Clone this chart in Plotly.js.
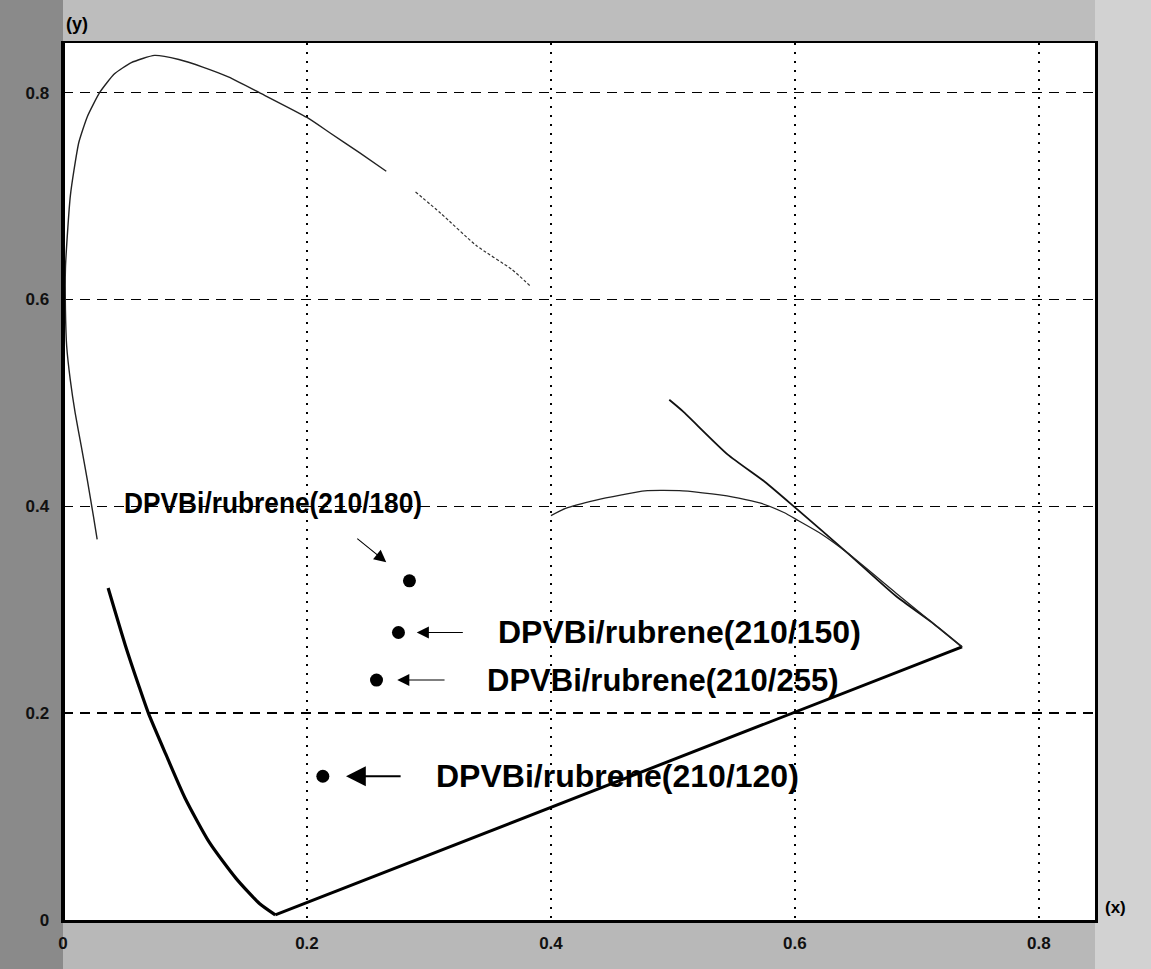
<!DOCTYPE html>
<html>
<head>
<meta charset="utf-8">
<script src="https://cdn.plot.ly/plotly-3.0.1.min.js"></script>
<style>html,body{margin:0;padding:0;background:#fff;}#chart{width:1151px;height:969px;}</style>
</head>
<body>
<div id="chart"></div>
<script>
// ---- data (CIE x, y chromaticity) ----
// lower blue branch of the spectral locus (drawn heavy)
const locusLowX = [0.174, 0.161, 0.142, 0.120, 0.100, 0.084, 0.070, 0.062, 0.051, 0.037];
const locusLowY = [0.005, 0.016, 0.040, 0.075, 0.118, 0.161, 0.200, 0.227, 0.266, 0.321];
// left / top branch (thin)
const locusTopX = [0.028, 0.025, 0.020, 0.015, 0.010, 0.006, 0.003, 0.002, 0.002, 0.004, 0.006, 0.009, 0.013, 0.020, 0.030, 0.042, 0.056, 0.075, 0.095, 0.114, 0.136, 0.161, 0.200, 0.219, 0.243, 0.265];
const locusTopY = [0.368, 0.390, 0.425, 0.458, 0.490, 0.522, 0.555, 0.590, 0.630, 0.670, 0.700, 0.725, 0.752, 0.777, 0.800, 0.818, 0.829, 0.836, 0.832, 0.825, 0.815, 0.800, 0.776, 0.761, 0.742, 0.724];
// green-yellow piece (thin, broken)
const locusGreenX = [0.289, 0.310, 0.339, 0.368, 0.383];
const locusGreenY = [0.704, 0.683, 0.652, 0.629, 0.613];
// orange-red piece
const locusRedX = [0.497, 0.508, 0.545, 0.575, 0.600, 0.643, 0.683, 0.712, 0.737];
const locusRedY = [0.503, 0.492, 0.450, 0.424, 0.399, 0.355, 0.313, 0.288, 0.264];
// line of purples
const purpleX = [0.174, 0.737];
const purpleY = [0.005, 0.264];
// black-body like arc
const arcX = [0.400, 0.412, 0.437, 0.458, 0.477, 0.508, 0.532, 0.554, 0.572, 0.591, 0.603, 0.622, 0.643, 0.683, 0.737];
const arcY = [0.391, 0.398, 0.406, 0.411, 0.415, 0.415, 0.412, 0.408, 0.403, 0.394, 0.386, 0.373, 0.355, 0.316, 0.264];

// measured devices
const sampleNames = ['DPVBi/rubrene(210/180)', 'DPVBi/rubrene(210/150)', 'DPVBi/rubrene(210/255)', 'DPVBi/rubrene(210/120)'];
const sampleX = [0.284, 0.275, 0.257, 0.213];
const sampleY = [0.328, 0.278, 0.232, 0.139];

// axis ticks
const tickVals = [0, 0.2, 0.4, 0.6, 0.8];
const tickText = ['0', '0.2', '0.4', '0.6', '0.8'];

// ---- styling / layout ----
const BOLD = 'Liberation Sans, Arial, sans-serif';
function line(x, y, w, color, dash, smooth) {
  return {x: x, y: y, type: 'scatter', mode: 'lines', hoverinfo: 'skip', showlegend: false,
          line: {color: color, width: w, shape: 'spline', smoothing: smooth || 0.6, dash: dash || 'solid'}};
}
const traces = [
  line(locusLowX, locusLowY, 3.2, '#000'),
  line(locusTopX, locusTopY, 1.4, '#222', 'solid', 0.5),
  line(locusGreenX, locusGreenY, 1.2, '#333', '3px,2px'),
  line(locusRedX, locusRedY, 1.8, '#111'),
  line(purpleX, purpleY, 3, '#000'),
  line(arcX, arcY, 1.3, '#222'),
  {x: sampleX, y: sampleY, type: 'scatter', mode: 'markers', showlegend: false,
   marker: {color: '#000', size: 13, symbol: 'circle'}}
];

// label placement (offsets from each point, in data units) and arrow geometry
const labelPos = [
  {tx: 0.172, ty: 0.404, anchor: 'center', hx: -0.019, hy: 0.018, sx: -0.044, sy: 0.042, size: 30, aw: 1.1, fitWidth: 298},
  {tx: 0.355, ty: 0.278, anchor: 'left', hx: 0.015, hy: 0, sx: 0.054, sy: 0, size: 32, aw: 1.1},
  {tx: 0.346, ty: 0.232, anchor: 'left', hx: 0.017, hy: 0, sx: 0.057, sy: 0, size: 31, aw: 1.1},
  {tx: 0.304, ty: 0.139, anchor: 'left', hx: 0.019, hy: 0, sx: 0.065, sy: 0, size: 32, aw: 1.8}
];
const annotations = [];
sampleNames.forEach((name, i) => {
  const p = labelPos[i];
  annotations.push({x: p.tx, y: p.ty, xref: 'x', yref: 'y', text: name, showarrow: false,
    xanchor: p.anchor, yanchor: 'middle', font: {family: BOLD, size: p.size, color: '#000', weight: 'bold'}});
  annotations.push({x: sampleX[i] + p.hx, y: sampleY[i] + p.hy, ax: sampleX[i] + p.sx, ay: sampleY[i] + p.sy,
    xref: 'x', yref: 'y', axref: 'x', ayref: 'y', text: '', showarrow: true,
    arrowhead: 2, arrowsize: 2.2, arrowwidth: p.aw, arrowcolor: '#000', standoff: 0, startstandoff: 0});
});
annotations.push({xref: 'paper', yref: 'paper', x: 0.014, y: 1.0, xanchor: 'center', yanchor: 'bottom', yshift: 7,
  text: '(y)', showarrow: false, font: {family: BOLD, size: 18, color: '#000', weight: 'bold'}});
annotations.push({xref: 'paper', yref: 'paper', x: 1.0, y: 0.0, xanchor: 'left', yanchor: 'bottom', xshift: 8, yshift: 1,
  text: '(x)', showarrow: false, font: {family: BOLD, size: 17, color: '#000', weight: 'bold'}});

const shapes = [
  // scanned-paper grey margins
  {type: 'rect', xref: 'paper', yref: 'paper', x0: -0.07, x1: 0, y0: -0.07, y1: 1.06, fillcolor: '#8a8a8a', line: {width: 0}, layer: 'below'},
  {type: 'rect', xref: 'paper', yref: 'paper', x0: 1.0, x1: 1.06, y0: -0.07, y1: 1.06, fillcolor: '#d2d2d2', line: {width: 0}, layer: 'below'},
  {type: 'rect', xref: 'paper', yref: 'paper', x0: 0.0, x1: 1.0, y0: 1.0, y1: 1.06, fillcolor: '#bdbdbd', line: {width: 0}, layer: 'below'},
  {type: 'rect', xref: 'paper', yref: 'paper', x0: 0.0, x1: 1.0, y0: -0.07, y1: 0, fillcolor: '#b8b8b8', line: {width: 0}, layer: 'below'},
  // heavier left frame edge
  {type: 'line', xref: 'paper', yref: 'paper', x0: 0, x1: 0, y0: 0, y1: 1, line: {color: '#000', width: 4}}
];

const axisCommon = {
  tickvals: tickVals, ticktext: tickText, showgrid: true, zeroline: false,
  showline: true, linecolor: '#000', linewidth: 2.5, mirror: true,
  ticks: '', tickfont: {family: BOLD, size: 17, color: '#111', weight: 'bold'},
  gridcolor: '#000', gridwidth: 1.4, fixedrange: true
};
const layout = {
  width: 1151, height: 969,
  margin: {l: 63, r: 56, t: 43, b: 49, pad: 0},
  paper_bgcolor: '#a8a8a8', plot_bgcolor: '#ffffff',
  xaxis: Object.assign({}, axisCommon, {range: [0, 0.846], griddash: '2px,7px', ticklabelstandoff: 6}),
  yaxis: Object.assign({}, axisCommon, {range: [0, 0.848], griddash: '10px,7px', ticklabelstandoff: 8}),
  annotations: annotations,
  shapes: shapes,
  showlegend: false
};
Plotly.newPlot('chart', traces, layout, {displayModeBar: false, staticPlot: true}).then(gd => {
  // the first label is set in a condensed face in the original: squeeze it to its measured width
  labelPos.forEach((p, i) => {
    if (!p.fitWidth) return;
    gd.querySelectorAll('.annotation-text').forEach(t => {
      if (t.textContent === sampleNames[i]) {
        t.setAttribute('textLength', p.fitWidth);
        t.setAttribute('lengthAdjust', 'spacingAndGlyphs');
      }
    });
  });
});
</script>
</body>
</html>
